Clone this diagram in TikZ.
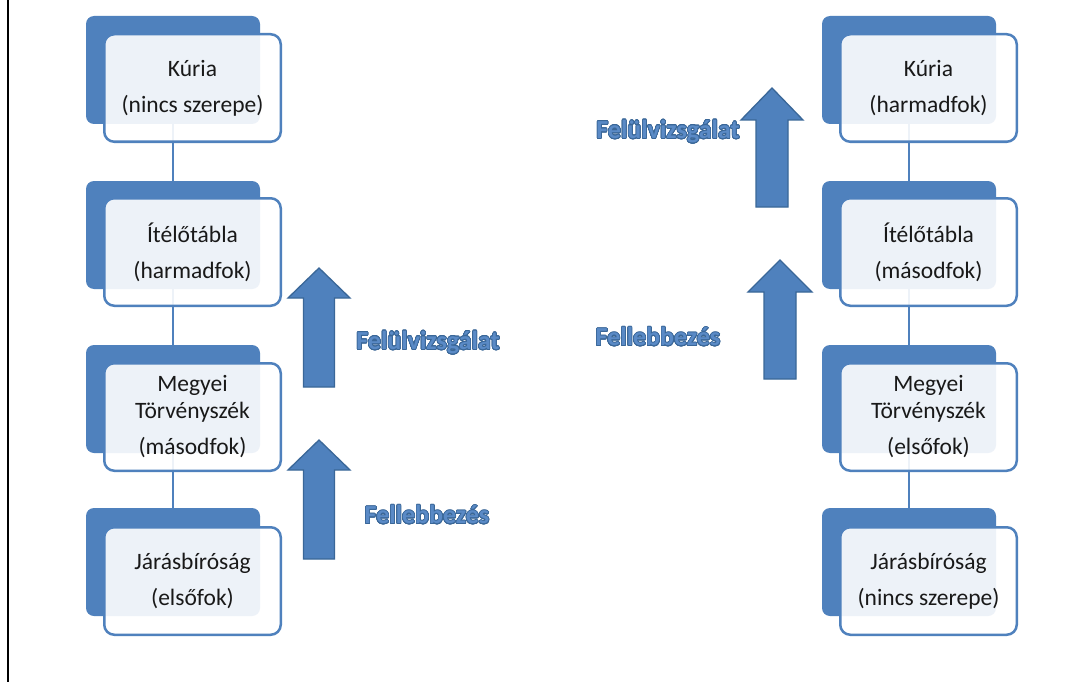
\documentclass[tikz,border=0pt]{standalone}
\usepackage{fontspec}
\setmainfont{Carlito}
\usepackage{contour}
\contourlength{0.7pt}
\contournumber{24}
\definecolor{acc}{HTML}{4F81BD}
\definecolor{accd}{HTML}{3A6798}
\definecolor{lblfill}{HTML}{5A8AC6}
\tikzset{
  back/.style={fill=acc, rounded corners=8pt, minimum width=174pt, minimum height=108pt, inner sep=0pt},
  front/.style={draw=acc, line width=2.5pt, fill=white, fill opacity=0.9, text opacity=1, rounded corners=10pt,
    minimum width=176.5pt, minimum height=107.5pt, inner sep=0pt, align=center,
    font=\fontsize{23.5}{27}\selectfont, text=black!90},
  link/.style={draw=acc, line width=2.4pt},
  bigarrow/.style={fill=acc, draw=accd, line width=1.3pt, line join=miter},
  lbl/.style={font=\fontsize{26}{30}\selectfont\bfseries, text=lblfill, inner sep=0pt}
}
\newcommand{\lbltext}[1]{\contour{accd}{#1}}
\begin{document}
\begin{tikzpicture}[x=1pt, y=-1pt]
\useasboundingbox (0,0) rectangle (1089,682);
\fill[white] (0,0) rectangle (1089,682);
\draw[black, line width=2.5pt] (8,-2) -- (8,684);

% back rectangles
\foreach \n/\x in {L/173, R/909}{
  \node[back] (\n1b) at (\x,70) {};
  \node[back] (\n2b) at (\x,235) {};
  \node[back] (\n3b) at (\x,399) {};
  \node[back] (\n4b) at (\x,562) {};
}
% links
\foreach \n in {L,R}{
  \draw[link] (\n1b.south) -- (\n2b.north);
  \draw[link] (\n2b.south) -- (\n3b.north);
  \draw[link] (\n3b.south) -- (\n4b.north);
}
% front boxes, left
\node[front] (L1) at (192.5,88) {Kúria\\[9pt](nincs szerepe)};
\node[front] (L2) at (192.5,252) {Ítélőtábla\\[9pt](harmadfok)};
\node[front] (L3) at (192.5,417) {Megyei\\Törvényszék\\[9pt](másodfok)};
\node[front] (L4) at (192.5,581) {Járásbíróság\\[9pt](elsőfok)};
% front boxes, right
\node[front] (R1) at (928.5,88) {Kúria\\[9pt](harmadfok)};
\node[front] (R2) at (928.5,252) {Ítélőtábla\\[9pt](másodfok)};
\node[front] (R3) at (928.5,417) {Megyei\\Törvényszék\\[9pt](elsőfok)};
\node[front] (R4) at (928.5,581) {Járásbíróság\\[9pt](nincs szerepe)};

% block arrows
\draw[bigarrow] (319,268) -- (350,298) -- (334.5,298) -- (334.5,387) -- (303.5,387) -- (303.5,298) -- (288,298) -- cycle;
\draw[bigarrow] (319,440) -- (350,470) -- (334.5,470) -- (334.5,559) -- (303.5,559) -- (303.5,470) -- (288,470) -- cycle;
\draw[bigarrow] (772,88) -- (803,120) -- (788,120) -- (788,207) -- (756,207) -- (756,120) -- (741,120) -- cycle;
\draw[bigarrow] (780,260) -- (812,292) -- (796,292) -- (796,379) -- (764,379) -- (764,292) -- (748,292) -- cycle;

% labels
\node[lbl] (l1) at (428,343) {\lbltext{Felülvizsgálat}};
\node[lbl] (l2) at (427,515) {\lbltext{Fellebbezés}};
\node[lbl] (r1) at (668,132) {\lbltext{Felülvizsgálat}};
\node[lbl] (r2) at (658,337) {\lbltext{Fellebbezés}};
\end{tikzpicture}
\end{document}
